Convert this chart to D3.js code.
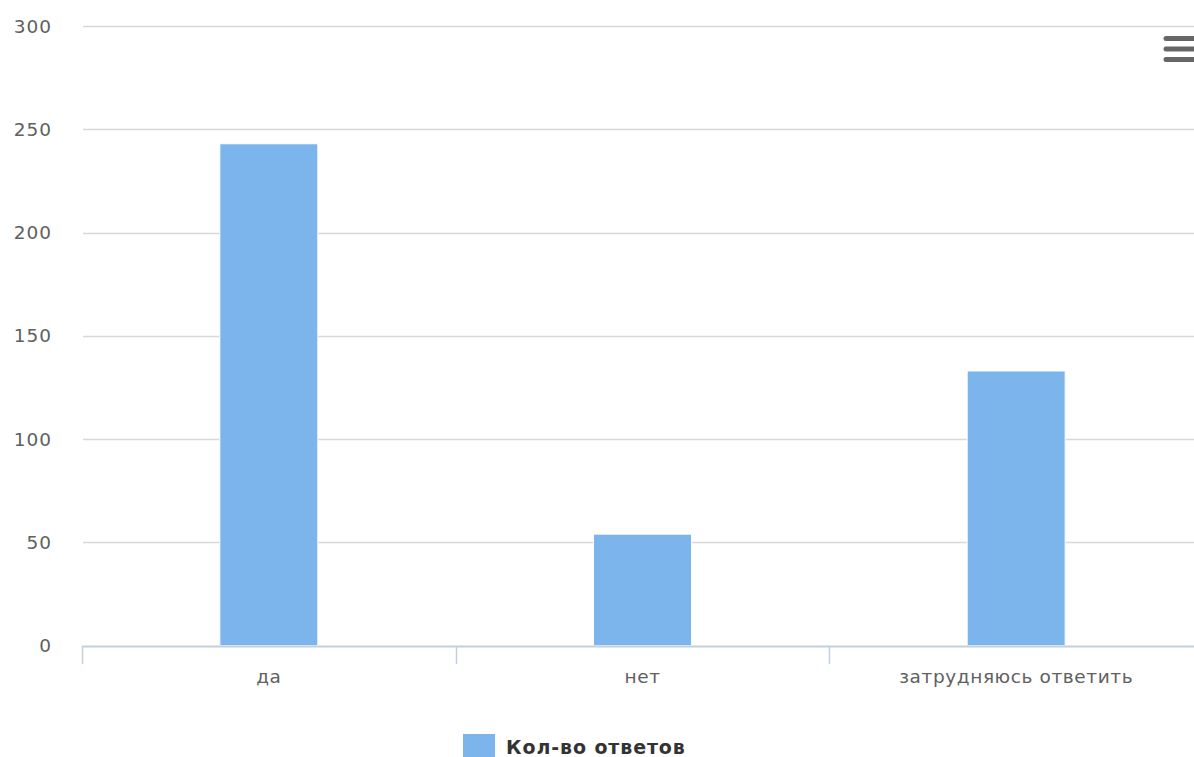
<!DOCTYPE html>
<html><head><meta charset="utf-8">
<script src="https://cdn.jsdelivr.net/npm/d3@7"></script>
<style>
html,body{margin:0;padding:0;background:#fff;overflow:hidden;}
svg{display:block;}
</style></head>
<body>
<svg id="chart" width="1194" height="757"></svg>
<script>
const categories = ["да", "нет", "затрудняюсь ответить"];
const values = [243, 54, 133];
const yTicks = [0, 50, 100, 150, 200, 250, 300];
const seriesName = "Кол-во ответов";

const W = 1194, H = 757;
const svg = d3.select("#chart");
const font = "'DejaVu Sans', Verdana, sans-serif";

const x = d3.scaleBand().domain(categories).range([82, 1203]).paddingInner(0).paddingOuter(0);
const y = d3.scaleLinear().domain([0, 300]).range([645.7, 26]);

// gridlines
svg.append("g").selectAll("line").data(yTicks.filter(d => d > 0)).join("line")
  .attr("x1", 83).attr("x2", W)
  .attr("y1", d => Math.round(y(d)) + 0.5).attr("y2", d => Math.round(y(d)) + 0.5)
  .attr("stroke", "#d8d8d8").attr("stroke-width", 1.5);

// y labels
svg.append("g").selectAll("text").data(yTicks).join("text")
  .attr("x", 52).attr("y", d => y(d) + 6.5)
  .attr("text-anchor", "end")
  .attr("font-family", font).attr("font-size", 18.5)
  .attr("letter-spacing", 1)
  .attr("fill", "#606060")
  .text(d => d);

// bars
const bw = 98;
svg.append("g").selectAll("rect").data(values).join("rect")
  .attr("x", (d, i) => x(categories[i]) + x.bandwidth() / 2 - bw / 2)
  .attr("width", bw)
  .attr("y", d => y(d))
  .attr("height", d => y(0) - y(d))
  .attr("fill", "#7cb5ec")
  .attr("stroke", "#ffffff").attr("stroke-width", 1);

// x axis
const xAxis = d3.axisBottom(x).tickSize(0).tickPadding(0);
const gx = svg.append("g").attr("transform", `translate(0,${Math.round(y(0)) + 0.5})`).call(xAxis);
gx.select(".domain").attr("stroke", "#c0d0e0").attr("stroke-width", 2).attr("d", `M82,0H${W}`);
gx.selectAll(".tick text")
  .attr("font-family", font).attr("font-size", 18.5).attr("fill", "#606060")
  .attr("letter-spacing", 0.6)
  .attr("dy", 0).attr("y", 36);
// tick marks at band boundaries
svg.append("g").selectAll("line").data(categories).join("line")
  .attr("x1", d => Math.round(x(d)) + 0.5).attr("x2", d => Math.round(x(d)) + 0.5)
  .attr("y1", 646).attr("y2", 664)
  .attr("stroke", "#c0d0e0").attr("stroke-width", 1.5);

// legend
const lg = svg.append("g");
lg.append("rect").attr("x", 463).attr("y", 734).attr("width", 32).attr("height", 24).attr("fill", "#7cb5ec");
lg.append("text").attr("x", 506).attr("y", 754)
  .attr("font-family", font).attr("font-size", 19).attr("font-weight", "bold")
  .attr("letter-spacing", 0.9)
  .attr("fill", "#333333").text(seriesName);

// menu icon
const menu = svg.append("g");
[38.5, 49, 59.5].forEach(yy => {
  menu.append("line").attr("x1", 1166).attr("x2", 1196).attr("y1", yy).attr("y2", yy)
    .attr("stroke", "#666666").attr("stroke-width", 5).attr("stroke-linecap", "round");
});
</script>
</body></html>
